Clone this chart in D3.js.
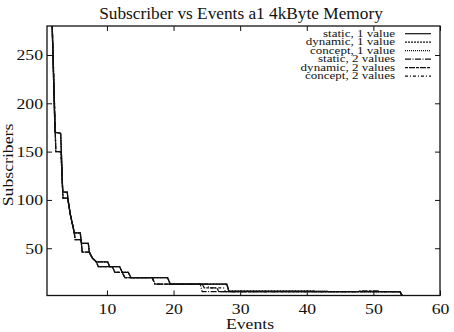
<!DOCTYPE html>
<html>
<head>
<meta charset="utf-8">
<script src="https://cdn.jsdelivr.net/npm/d3@7"></script>
<style>
  body { margin: 0; background: #fff; }
  text { font-family: "Liberation Serif", "Times New Roman", serif; fill: #111; }
</style>
</head>
<body>
<div id="chart"></div>
<script>

// tick values
const xTicks = [10, 20, 30, 40, 50, 60];
const yTicks = [50, 100, 150, 200, 250];

// legend labels
const seriesNames = [
    "static, 1 value", "dynamic, 1 value", "concept, 1 value",
    "static, 2 values", "dynamic, 2 values", "concept, 2 values"
];

// [events, subscribers]
// common front part of the "1 value" runs
const headOne = [
    [1, 480], [2.2, 170], [3.05, 169], [3.15, 151], [3.36, 108], [4.05, 108], [4.12, 102],
    [4.5, 85], [5.1, 66], [6.0, 66], [6.1, 59], [6.2, 55], [7.2, 55], [7.35, 46], [7.8, 40],
    [8.4, 36], [10.1, 36], [10.4, 31], [11.9, 31], [12.3, 25], [13.2, 25], [13.6, 19.5],
    [19.1, 19.5], [19.5, 13]
];
// common front part of the "2 values" runs
const headTwo = [
    [1, 470], [2.25, 169], [2.32, 150], [3.1, 150], [3.36, 108], [3.42, 102], [4.1, 102],
    [4.5, 85], [5.1, 66], [5.22, 59], [6.1, 59], [6.3, 46], [7.35, 46], [7.8, 40],
    [8.4, 36], [8.7, 31], [10.8, 31], [11.2, 25], [12.3, 25], [12.7, 19.5],
    [16.8, 19.5], [17.2, 13]
];

const staticOne  = headOne.concat([[28.0, 13], [28.3, 5], [54.0, 5], [54.4, 0]]);
const dynamicOne = headOne.concat([[28.0, 13], [28.3, 6], [41.0, 6], [41.3, 5], [54.0, 5], [54.4, 0]]);
const conceptOne = headOne.concat([[28.0, 13], [28.3, 6], [43.0, 6], [43.3, 5], [54.0, 5], [54.4, 0]]);
const staticTwo  = headTwo.concat([[24.0, 13], [24.3, 5], [54.0, 5], [54.4, 0]]);
const dynamicTwo = headTwo.concat([[24.3, 13], [24.6, 9], [26.5, 9], [26.8, 5], [47.7, 5], [48.0, 6],
    [50.7, 6], [51.0, 5], [54.0, 5], [54.4, 0]]);
const conceptTwo = headTwo.concat([[25.0, 13], [25.3, 9], [27.5, 9], [27.8, 5], [54.0, 5], [54.4, 0]]);

const allSeries = [staticOne, dynamicOne, conceptOne, staticTwo, dynamicTwo, conceptTwo];
const dashes = ["none", "2,1", "1,1", "6,1.5,1,1.5", "3,1,6,1", "3,2,1,2"];

const width = 454;
const height = 332;

const plotLeft = 47, plotRight = 440, plotTop = 26, plotBottom = 295.5;

const svg = d3.select("#chart")
    .append("svg")
    .attr("width", width)
    .attr("height", height);

svg.append("rect").attr("width", width).attr("height", height).attr("fill", "#fff");

const x = d3.scaleLinear().domain([1, 60]).range([plotLeft, plotRight]);
const y = d3.scaleLinear().domain([1.1, 280]).range([plotBottom, plotTop]);

// the picture's lettering is wider than the font, so stretch it
function widen(sel, factor){
    sel.each(function(){
        const len = this.getComputedTextLength();
        d3.select(this)
            .attr("textLength", len * factor)
            .attr("lengthAdjust", "spacingAndGlyphs");
    });
}

// axes, gnuplot style ticks on all four sides pointing in
const xAxis = svg.append("g")
    .attr("transform", `translate(0,${plotBottom})`)
    .call(d3.axisBottom(x).tickValues(xTicks).tickSizeInner(-5).tickSizeOuter(0).tickPadding(8));
const yAxis = svg.append("g")
    .attr("transform", `translate(${plotLeft},0)`)
    .call(d3.axisLeft(y).tickValues(yTicks).tickSizeInner(-5).tickSizeOuter(0).tickPadding(4));
svg.append("g")
    .attr("transform", `translate(0,${plotTop})`)
    .call(d3.axisTop(x).tickValues(xTicks).tickSizeInner(-5).tickSizeOuter(0).tickFormat(""));
svg.append("g")
    .attr("transform", `translate(${plotRight},0)`)
    .call(d3.axisRight(y).tickValues(yTicks).tickSizeInner(-5).tickSizeOuter(0).tickFormat(""));

svg.selectAll(".domain").remove();
svg.selectAll(".tick line").attr("stroke", "#111").attr("stroke-width", 1);
svg.selectAll(".tick text")
    .attr("font-family", "Liberation Serif")
    .attr("font-size", 15)
    .attr("fill", "#111");
xAxis.selectAll(".tick text").call(widen, 1.18);
yAxis.selectAll(".tick text").call(widen, 1.18);

// lines
svg.append("clipPath").attr("id", "plot-clip")
    .append("rect")
    .attr("x", plotLeft).attr("y", plotTop)
    .attr("width", plotRight - plotLeft).attr("height", plotBottom - plotTop);

const line = d3.line()
    .x(d => x(d[0]))
    .y(d => y(d[1]));

svg.append("g")
    .attr("clip-path", "url(#plot-clip)")
    .selectAll("path")
    .data(allSeries)
    .enter()
    .append("path")
    .attr("d", line)
    .attr("fill", "none")
    .attr("stroke", "#111")
    .attr("stroke-width", 1.25)
    .attr("stroke-dasharray", (d, i) => dashes[i]);

// frame
svg.append("rect")
    .attr("x", plotLeft).attr("y", plotTop)
    .attr("width", plotRight - plotLeft).attr("height", plotBottom - plotTop)
    .attr("fill", "none")
    .attr("stroke", "#111")
    .attr("stroke-width", 1.3);

// legend
const legend = svg.append("g");
seriesNames.forEach((name, i) => {
    const ly = 36.7 + i * 8.5;
    legend.append("text")
        .attr("x", 395).attr("y", ly)
        .attr("text-anchor", "end")
        .attr("font-size", 10.5)
        .text(name)
        .call(widen, 1.24);
    legend.append("line")
        .attr("x1", 405).attr("x2", 431)
        .attr("y1", ly - 3).attr("y2", ly - 3)
        .attr("stroke", "#111")
        .attr("stroke-width", 1.2)
        .attr("stroke-dasharray", dashes[i]);
});

// titles
svg.append("text")
    .attr("x", 241).attr("y", 18.5)
    .attr("text-anchor", "middle")
    .attr("font-size", 16)
    .text("Subscriber vs Events a1 4kByte Memory")
    .call(widen, 1.08);

svg.append("text")
    .attr("x", 250).attr("y", 329)
    .attr("text-anchor", "middle")
    .attr("font-size", 15)
    .text("Events")
    .call(widen, 1.18);

svg.append("text")
    .attr("transform", "translate(13,165) rotate(-90)")
    .attr("text-anchor", "middle")
    .attr("font-size", 15)
    .text("Subscribers")
    .call(widen, 1.18);

</script>
</body>
</html>
